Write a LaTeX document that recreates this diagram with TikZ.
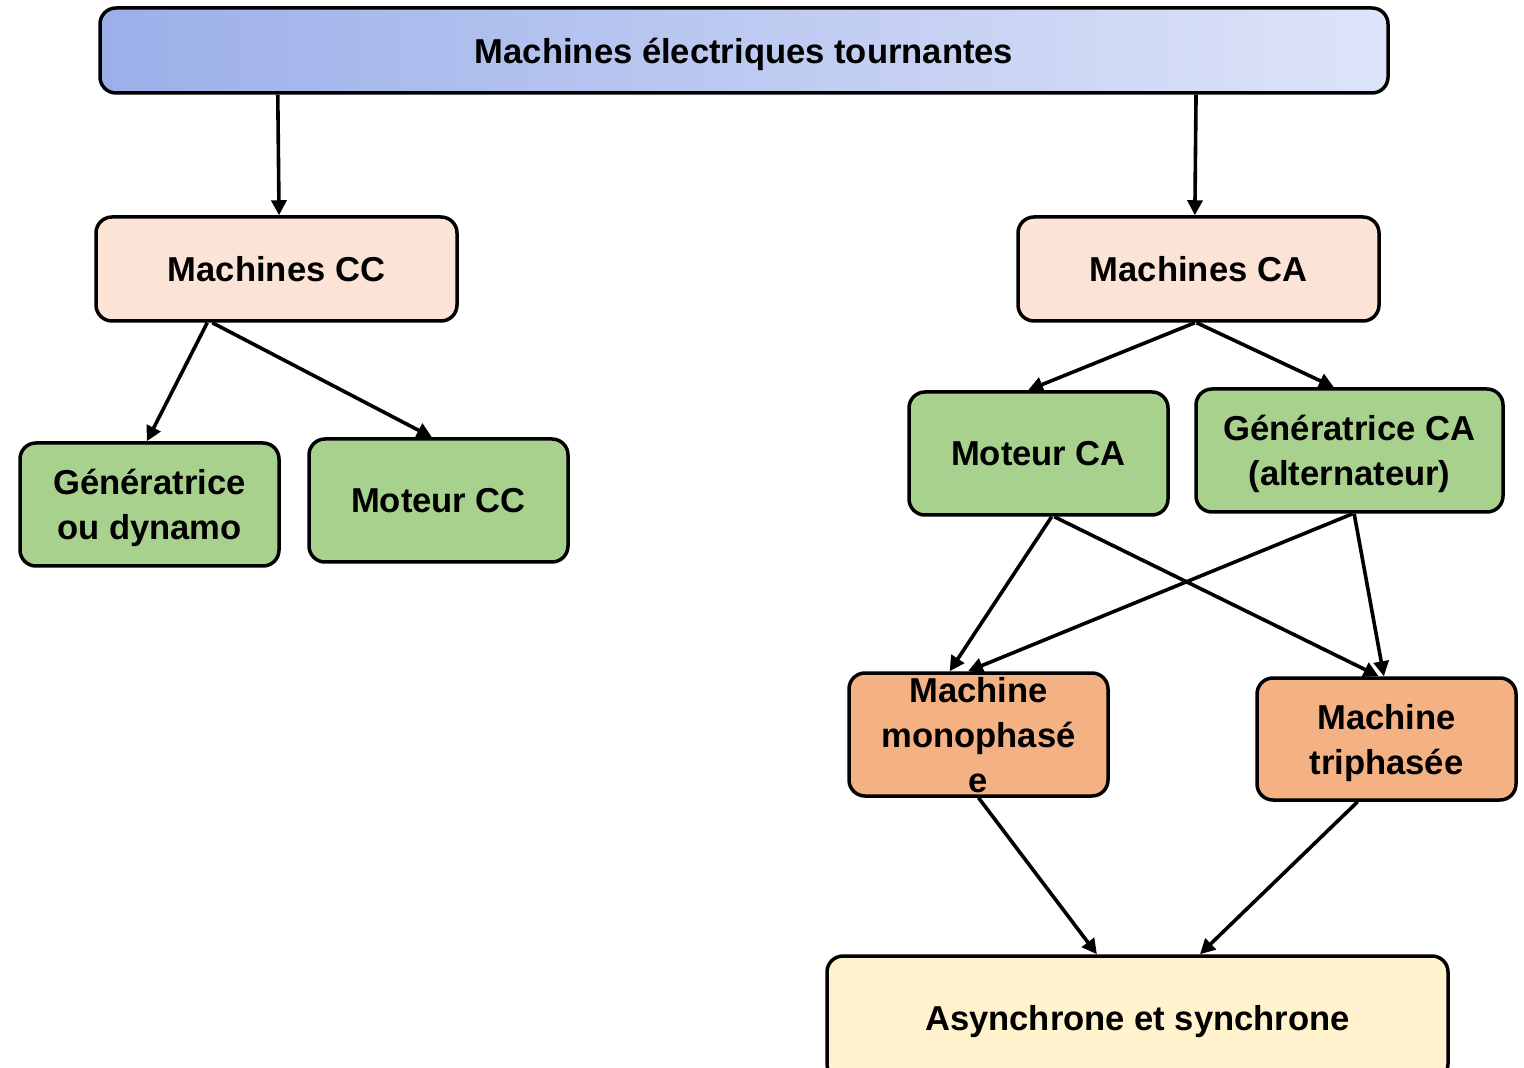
\documentclass[tikz,border=0pt]{standalone}
\usepackage{fontspec}
\setmainfont{Liberation Sans}
\usetikzlibrary{arrows.meta,calc}
\definecolor{peach}{RGB}{251,228,214}
\definecolor{grn}{RGB}{169,209,142}
\definecolor{org}{RGB}{244,177,131}
\definecolor{ylw}{RGB}{255,242,204}
\definecolor{blueL}{RGB}{155,175,233}
\definecolor{blueR}{RGB}{222,228,248}
\begin{document}
\begin{tikzpicture}[x=0.5pt,y=-0.5pt,
  box/.style={draw=black,line width=1.75pt,rounded corners=8pt,align=center,
    font=\fontsize{17.3}{22.5}\selectfont\bfseries,inner sep=0pt,text depth=0pt},
  arr/.style={line width=1.8pt,-{Triangle[length=7.5pt,width=7.5pt]}}]
\useasboundingbox (0,0) rectangle (1524,1068);
\node[box,minimum width=1288*0.5pt,minimum height=85*0.5pt,left color=blueL,right color=blueR] (top) at (744,50.5) {Machines électriques tournantes};
\node[box,fill=peach,minimum width=361*0.5pt,minimum height=104*0.5pt] (cc) at (276.5,269) {Machines CC};
\node[box,fill=peach,minimum width=361*0.5pt,minimum height=104*0.5pt] (ca) at (1198.5,269) {Machines CA};
\node[box,fill=grn,minimum width=259*0.5pt,minimum height=123*0.5pt] (gen) at (149.5,504.5) {Génératrice\\ou dynamo};
\node[box,fill=grn,minimum width=259*0.5pt,minimum height=123*0.5pt] (mcc) at (438.5,500.5) {Moteur CC};
\node[box,fill=grn,minimum width=259*0.5pt,minimum height=123*0.5pt] (mca) at (1038.5,453.5) {Moteur CA};
\node[box,fill=grn,minimum width=307*0.5pt,minimum height=123*0.5pt] (gca) at (1349.5,450.5) {Génératrice CA\\(alternateur)};
\node[box,fill=org,minimum width=259*0.5pt,minimum height=123*0.5pt] (mono) at (978.5,734.5) {Machine\\monophasé\\e};
\node[box,fill=org,minimum width=259*0.5pt,minimum height=122*0.5pt] (tri) at (1386.5,739) {Machine\\triphasée};
\node[box,fill=ylw,minimum width=621*0.5pt,minimum height=124*0.5pt] (asy) at (1137.5,1018) {Asynchrone et synchrone};
% connectors
\draw[arr] ($(top.south west)!0.139!(top.south east)$) -- ($(cc.north west)!0.507!(cc.north east)$);
\draw[arr] ($(top.south west)!0.850!(top.south east)$) -- ($(ca.north west)!0.490!(ca.north east)$);
\draw[arr] ($(cc.south west)!0.31!(cc.south east)$) -- ($(gen.north west)!0.49!(gen.north east)$);
\draw[arr] ($(cc.south west)!0.324!(cc.south east)$) -- ($(mcc.north west)!0.475!(mcc.north east)$);
\draw[arr] ($(ca.south west)!0.49!(ca.south east)$) -- ($(mca.north west)!0.46!(mca.north east)$);
\draw[arr] ($(ca.south west)!0.495!(ca.south east)$) -- ($(gca.north west)!0.45!(gca.north east)$);
\draw[arr] ($(mca.south west)!0.55!(mca.south east)$) -- ($(mono.north west)!0.39!(mono.north east)$);
\draw[arr] ($(mca.south west)!0.56!(mca.south east)$) -- ($(tri.north west)!0.47!(tri.north east)$);
\draw[arr] ($(gca.south west)!0.51!(gca.south east)$) -- ($(mono.north west)!0.46!(mono.north east)$);
\draw[arr] ($(gca.south west)!0.515!(gca.south east)$) -- ($(tri.north west)!0.49!(tri.north east)$);
\draw[arr] ($(mono.south west)!0.5!(mono.south east)$) -- ($(asy.north west)!0.435!(asy.north east)$);
\draw[arr] ($(tri.south west)!0.39!(tri.south east)$) -- ($(asy.north west)!0.60!(asy.north east)$);
\end{tikzpicture}
\end{document}
